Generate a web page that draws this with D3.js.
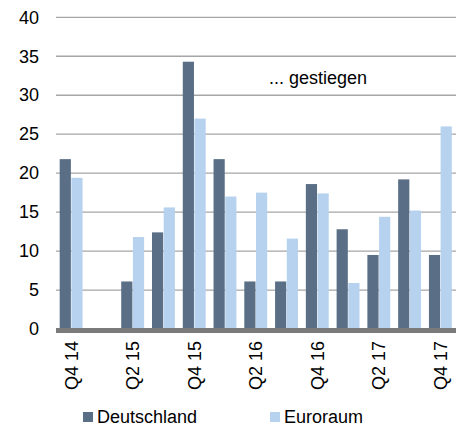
<!DOCTYPE html>
<html lang="de">
<head>
    <meta charset="utf-8">
    <title>Deutschland / Euroraum</title>
    <style type="text/css">
        body { margin: 0; background: #fff; }
        svg { font-family: "Liberation Sans", Arial, sans-serif; }
        .grid line { stroke: #a6a6a6; stroke-width: 1.3; }
        .axis text { font-size: 18px; fill: #000; }
    </style>
</head>
<body>
    <svg class="chart" width="465" height="431"></svg>

    <script src="https://d3js.org/d3.v7.min.js"></script>
    <script>
        // data
        var quarters = ["Q4 14", "Q1 15", "Q2 15", "Q3 15", "Q4 15", "Q1 16", "Q2 16",
                        "Q3 16", "Q4 16", "Q1 17", "Q2 17", "Q3 17", "Q4 17"];
        var deutschland = [21.8, 0, 6.1, 12.4, 34.3, 21.8, 6.1, 6.1, 18.6, 12.8, 9.5, 19.2, 9.5];
        var euroraum    = [19.4, 0, 11.8, 15.6, 27.0, 17.0, 17.5, 11.6, 17.4, 5.9, 14.4, 15.2, 26.0];
        var yTicks = [0, 5, 10, 15, 20, 25, 30, 35, 40];
        var seriesNames = ["Deutschland", "Euroraum"];
        var colors = ["#5a6f86", "#b6d2ef"];

        var svg = d3.select(".chart"),
            padding = {top: 17.3, left: 56, right: 9, bottom: 102},
            w = +svg.attr("width") - padding.left - padding.right,
            h = +svg.attr("height") - padding.top - padding.bottom;

        var g = svg.append("g")
            .attr("transform", "translate(" + padding.left + "," + padding.top + ")");

        // scales
        var x = d3.scaleBand().domain(quarters).range([0, w]).paddingInner(0.24).paddingOuter(0.12);
        var x1 = d3.scaleBand().domain(seriesNames).range([0, x.bandwidth()]);
        var y = d3.scaleLinear().domain([0, 40]).range([h, 0]);

        // gridlines
        g.append("g").attr("class", "grid")
            .selectAll("line").data(yTicks.slice(1)).enter().append("line")
            .attr("x1", 0).attr("x2", w)
            .attr("y1", function(d) { return y(d); })
            .attr("y2", function(d) { return y(d); });

        // y axis labels
        var yAxis = d3.axisLeft(y).tickValues(yTicks).tickSize(0).tickPadding(17);
        g.append("g").attr("class", "axis axis-y").call(yAxis)
            .call(function(s) { s.select(".domain").remove(); });

        // bars
        var rows = quarters.map(function(q, i) {
            return {q: q, vals: [deutschland[i], euroraum[i]]};
        });
        var groups = g.selectAll(".grp").data(rows).enter().append("g")
            .attr("class", "grp")
            .attr("transform", function(d) { return "translate(" + x(d.q) + ",0)"; });
        groups.selectAll("rect")
            .data(function(d) { return d.vals.map(function(v, k) { return {k: k, v: v}; }); })
            .enter().append("rect")
            .attr("x", function(d) { return x1(seriesNames[d.k]); })
            .attr("width", x1.bandwidth() - 0.5)
            .attr("y", function(d) { return y(d.v); })
            .attr("height", function(d) { return h - y(d.v); })
            .attr("fill", function(d) { return colors[d.k]; });

        // baseline
        g.append("line")
            .attr("x1", 0).attr("x2", w)
            .attr("y1", y(0) + 1.5).attr("y2", y(0) + 1.5)
            .attr("stroke", "#7a7a7a").attr("stroke-width", 5);

        // x axis labels (every other quarter)
        var xAxis = d3.axisBottom(x)
            .tickValues(quarters.filter(function(d, i) { return i % 2 === 0; }))
            .tickSize(0);
        g.append("g").attr("class", "axis axis-x")
            .attr("transform", "translate(0," + h + ")")
            .call(xAxis)
            .call(function(s) { s.select(".domain").remove(); })
            .selectAll("text")
            .attr("transform", "rotate(-90)")
            .attr("x", -12).attr("y", 0).attr("dy", "0.35em")
            .style("text-anchor", "end");

        // annotation
        g.append("text")
            .attr("x", 269 - padding.left).attr("y", 84 - padding.top)
            .attr("font-size", 18).text("... gestiegen");

        // legend
        var legend = svg.append("g").attr("font-size", 18);
        var legX = [83, 270];
        seriesNames.forEach(function(n, i) {
            legend.append("rect")
                .attr("x", legX[i]).attr("y", 412).attr("width", 10).attr("height", 10)
                .attr("fill", colors[i]);
            legend.append("text")
                .attr("x", legX[i] + 14).attr("y", 423).text(n);
        });
    </script>
</body>
</html>
